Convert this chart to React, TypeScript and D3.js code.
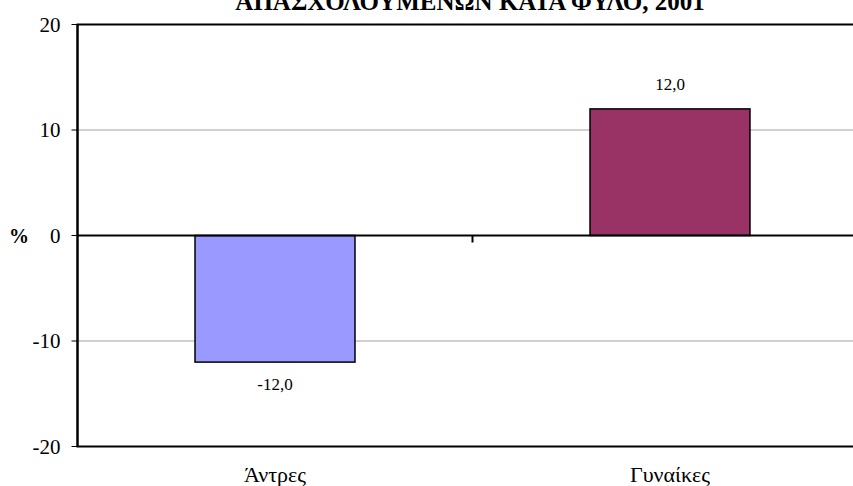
import React from "react";
import * as d3 from "d3";

const categories: string[] = ["Άντρες", "Γυναίκες"];
const values: number[] = [-12.0, 12.0];
const barColors: string[] = ["#9999FF", "#993366"];
const yTicks: number[] = [-20, -10, 0, 10, 20];
const titleText = "ΑΠΑΣΧΟΛΟΥΜΕΝΩΝ ΚΑΤΑ ΦΥΛΟ, 2001";

const W = 853;
const H = 486;
const FONT = '"Liberation Serif", "Times New Roman", serif';

export default function App() {
  const left = 77.5;
  const right = 867.5;
  const top = 24.5;
  const bottom = 446.5;

  const x = d3
    .scaleBand<string>()
    .domain(categories)
    .range([left, right])
    .paddingInner(0.595)
    .paddingOuter(0.2975);
  const y = d3.scaleLinear().domain([-20, 20]).range([bottom, top]);
  const step = x.step();
  const fmt = (v: number) => v.toFixed(1).replace(".", ",");
  const ts = { fontFamily: FONT } as React.CSSProperties;

  return (
    <svg
      width={W}
      height={H}
      style={{ position: "absolute", left: 0, top: 0, background: "#fff", fontFamily: FONT }}
    >
      <text x={470} y={10} textAnchor="middle" fontSize={25} fontWeight="bold" style={ts}>
        {titleText}
      </text>

      {yTicks
        .filter((t) => t !== 0 && t !== 20 && t !== -20)
        .map((t) => (
          <line
            key={"g" + t}
            x1={left}
            x2={right}
            y1={y(t)}
            y2={y(t)}
            stroke="#C0C0C0"
            strokeWidth={1.5}
          />
        ))}

      <rect
        x={left}
        y={top}
        width={right - left}
        height={bottom - top}
        fill="none"
        stroke="#000"
        strokeWidth={2}
      />

      {categories.map((c, i) => {
        const v = values[i];
        const y0 = y(Math.max(0, v));
        const y1 = y(Math.min(0, v));
        return (
          <rect
            key={c}
            x={x(c)}
            y={y0}
            width={x.bandwidth()}
            height={y1 - y0}
            fill={barColors[i]}
            stroke="#000"
            strokeWidth={1.5}
          />
        );
      })}

      <line x1={left} x2={right} y1={y(0)} y2={y(0)} stroke="#000" strokeWidth={2} />

      {categories.slice(1).map((c) => {
        const bx = (x(c) as number) - (step - x.bandwidth()) / 2;
        return (
          <line
            key={"ct" + c}
            x1={bx}
            x2={bx}
            y1={y(0)}
            y2={y(0) + 7}
            stroke="#000"
            strokeWidth={2}
          />
        );
      })}

      <line x1={left} x2={left} y1={top} y2={bottom} stroke="#000" strokeWidth={2} />
      {yTicks.map((t) => (
        <g key={"t" + t}>
          <line x1={left - 6} x2={left} y1={y(t)} y2={y(t)} stroke="#000" strokeWidth={1} />
          <text x={left - 17} y={y(t)} dy="0.35em" textAnchor="end" fontSize={21} style={ts}>
            {t}
          </text>
        </g>
      ))}
      <text x={19} y={y(0)} dy="0.35em" textAnchor="middle" fontSize={20} fontWeight="bold" style={ts}>
        %
      </text>

      {categories.map((c, i) => {
        const v = values[i];
        const cx = (x(c) as number) + x.bandwidth() / 2;
        const ly = v >= 0 ? y(v) - 25 : y(v) + 22;
        return (
          <text key={"v" + c} x={cx} y={ly} dy="0.35em" textAnchor="middle" fontSize={17} style={ts}>
            {fmt(v)}
          </text>
        );
      })}

      {categories.map((c) => (
        <text
          key={"c" + c}
          x={(x(c) as number) + x.bandwidth() / 2}
          y={474}
          dy="0.35em"
          textAnchor="middle"
          fontSize={22}
          style={ts}
        >
          {c}
        </text>
      ))}
    </svg>
  );
}
